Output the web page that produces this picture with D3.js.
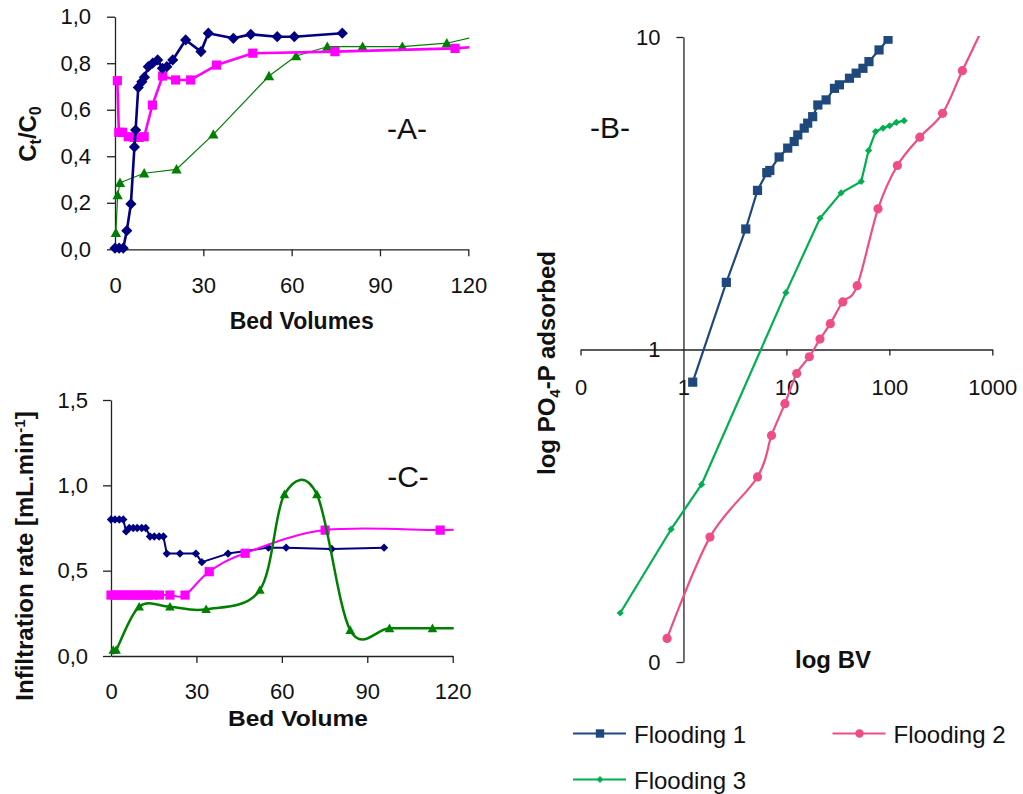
<!DOCTYPE html>
<html>
<head>
<meta charset="utf-8">
<script src="https://cdn.jsdelivr.net/npm/d3@7"></script>
<style>
  body { margin: 0; background: #fff; }
  svg { display: block; }
  text { font-family: "Liberation Sans", Arial, Helvetica, sans-serif; fill: #111; }
</style>
</head>
<body>
<svg id="fig" width="1023" height="794"></svg>
<script>
// ---- Panel A: breakthrough curves, Ct/C0 vs bed volumes ----
const bvA1 = [0, 1.4, 2.8, 4.0, 5.4, 6.6, 7.0, 7.9, 9.1, 10.0, 11.3, 12.8, 14.5, 16.1, 17.6, 19.6, 24.0, 29.2, 31.7, 40.2, 46.1, 55.1, 60.9, 77.2];
const ctA1 = [0.005, 0.005, 0.005, 0.08, 0.195, 0.44, 0.513, 0.696, 0.72, 0.74, 0.785, 0.80, 0.814, 0.778, 0.785, 0.814, 0.90, 0.85, 0.929, 0.907, 0.924, 0.914, 0.914, 0.929];
const bvA2 = [0.8, 1.3, 2.6, 4.5, 6.5, 8.2, 9.9, 12.7, 16.2, 20.6, 25.7, 34.5, 46.8, 74.7, 115.5, 122];
const ctA2 = [0.725, 0.503, 0.503, 0.484, 0.481, 0.481, 0.484, 0.62, 0.745, 0.728, 0.728, 0.792, 0.843, 0.85, 0.864, 0.87];
const bvA3 = [0.3, 0.9, 1.7, 9.9, 20.9, 33.4, 52.3, 61.5, 72.1, 84.1, 97.6, 112.7, 126];
const ctA3 = [0.071, 0.233, 0.286, 0.327, 0.344, 0.494, 0.745, 0.831, 0.871, 0.871, 0.871, 0.886, 0.925];
const bvTicks = [0, 30, 60, 90, 120];
const ctTicks = [0, 0.2, 0.4, 0.6, 0.8, 1.0];

// ---- Panel C: infiltration rate vs bed volume ----
const bvC1 = [0, 1.4, 2.9, 4.3, 5.3, 6.4, 7.8, 9.2, 10.8, 12.2, 13.7, 15.2, 16.9, 18.4, 19.6, 24.2, 29.8, 31.9, 41.1, 55.3, 61.5, 77.5, 95.9];
const irC1 = [0.80, 0.80, 0.80, 0.80, 0.73, 0.75, 0.75, 0.75, 0.75, 0.75, 0.70, 0.70, 0.70, 0.70, 0.60, 0.60, 0.60, 0.55, 0.60, 0.635, 0.635, 0.627, 0.635];
const bvC2 = [0, 1.4, 2.9, 4.3, 5.9, 7.3, 8.8, 10.2, 11.7, 13.1, 14.6, 17.0, 20.7, 26.0, 34.5, 47.1, 75.2, 115.6, 125];
const irC2 = [0.357, 0.357, 0.357, 0.357, 0.357, 0.357, 0.357, 0.357, 0.357, 0.357, 0.357, 0.357, 0.357, 0.357, 0.494, 0.602, 0.738, 0.738, 0.745];
const bvC3 = [0.8, 1.8, 9.9, 20.7, 33.4, 52.3, 60.9, 72.3, 84.0, 97.8, 112.9, 125];
const irC3 = [0.035, 0.035, 0.289, 0.289, 0.274, 0.387, 0.947, 0.947, 0.152, 0.162, 0.162, 0.162];
const irTicks = [0, 0.5, 1.0, 1.5];

// ---- Panel B: log PO4-P adsorbed vs log BV ----
const bvB1 = [1.23, 2.61, 4.03, 5.24, 6.45, 6.9, 8.5, 10.3, 11.9, 12.9, 14.9, 16.1, 18.0, 20.2, 24.3, 29.3, 32.7, 41, 47.6, 55.4, 63.4, 79.4, 97.1];
const pB1 = [0.786, 1.64, 2.43, 3.23, 3.68, 3.74, 4.13, 4.41, 4.63, 4.86, 5.11, 5.3, 5.56, 6.06, 6.29, 6.85, 7.03, 7.38, 7.66, 7.94, 8.34, 9.09, 9.84];
const bvB2 = [0.693, 1.81, 5.24, 7.17, 9.67, 12.6, 16.7, 21.2, 26.7, 35.3, 48.7, 77.6, 119.7, 197.6, 329, 512, 900];
const pB2 = [0.119, 0.251, 0.391, 0.531, 0.671, 0.838, 0.948, 1.08, 1.21, 1.42, 1.60, 2.82, 3.88, 4.78, 5.70, 7.80, 11.5];
const bvB3 = [0.243, 0.759, 1.50, 9.89, 21.2, 34, 53.3, 62.8, 73.5, 86.8, 100.7, 117, 139];
const pB3 = [0.1435, 0.266, 0.37, 1.52, 2.63, 3.17, 3.45, 4.33, 4.98, 5.11, 5.2, 5.33, 5.4];
const logBvTicks = [0.1, 1, 10, 100, 1000];
const logPTicks = [0.1, 1, 10];
const logLabel = d => d < 1 ? "0" : String(d);

const seriesNames = ["Flooding 1", "Flooding 2", "Flooding 3"];

const svg = d3.select("#fig");
const FONT = '"Liberation Sans", Arial, Helvetica, sans-serif';

const shapes = {
  diamond: r => `M0,${-r}L${r},0L0,${r}L${-r},0Z`,
  square: r => `M${-r},${-r}H${r}V${r}H${-r}Z`,
  triangle: r => `M0,${-r}L${r},${r * 0.8}L${-r},${r * 0.8}Z`,
  circle: r => `M${r},0A${r},${r} 0 1,1 ${-r},0A${r},${r} 0 1,1 ${r},0Z`
};

function drawSeries(g, xs, ys, x, y, o) {
  const pts = xs.map((v, i) => [x(v), y(ys[i])]);
  const line = d3.line().curve(o.smooth ? d3.curveCardinal.tension(0) : d3.curveLinear);
  g.append("path").attr("d", line(pts))
    .attr("fill", "none").attr("stroke", o.color)
    .attr("stroke-width", o.width).attr("stroke-linejoin", "round");
  g.selectAll(null).data(pts).join("path")
    .attr("transform", d => `translate(${d[0]},${d[1]})`)
    .attr("d", shapes[o.shape](o.r)).attr("fill", o.color);
}

function styleAxis(sel, size) {
  sel.attr("font-family", FONT).attr("font-size", size);
  sel.selectAll("path.domain").attr("stroke", "#222").attr("stroke-width", 1.3);
  sel.selectAll(".tick line").attr("stroke", "#222").attr("stroke-width", 1.3);
  sel.selectAll(".tick text").attr("fill", "#111");
}

function clip(id, x, y, w, h) {
  svg.append("clipPath").attr("id", id).append("rect")
    .attr("x", x).attr("y", y).attr("width", w).attr("height", h);
}

const comma = d => d3.format(".1f")(d).replace(".", ",");

// ================= Panel A =================
const xA = d3.scaleLinear().domain([0, 120]).range([115, 468.3]);
const yA = d3.scaleLinear().domain([0, 1]).range([249.3, 16.7]);
svg.append("g").attr("transform", `translate(0,${yA(0)})`)
  .call(d3.axisBottom(xA).tickValues(bvTicks).tickFormat(d3.format("d"))
    .tickSize(7).tickSizeOuter(0).tickPadding(21))
  .call(s => styleAxis(s, 22))
  .call(s => s.selectAll(".tick line").filter(d => d === 0).remove());
svg.append("g").attr("transform", `translate(${xA(0)},0)`)
  .call(d3.axisLeft(yA).tickValues(ctTicks).tickFormat(comma)
    .tickSize(8).tickSizeOuter(0).tickPadding(16))
  .call(s => styleAxis(s, 22));

clip("clipA", 100, 0, xA(120) - 100 + 1, 262);
const gA = svg.append("g").attr("clip-path", "url(#clipA)");
drawSeries(gA, bvA3, ctA3, xA, yA, { color: "#008000", width: 1.2, shape: "triangle", r: 5.2 });
drawSeries(gA, bvA2, ctA2, xA, yA, { color: "#ff00ff", width: 2.6, shape: "square", r: 4.6 });
drawSeries(gA, bvA1, ctA1, xA, yA, { color: "#000080", width: 2.6, shape: "diamond", r: 5.6 });

svg.append("text").attr("x", 301.7).attr("y", 328.5).attr("text-anchor", "middle")
  .attr("font-size", 23).attr("font-weight", "bold").text("Bed Volumes");
const lblA = svg.append("text").attr("transform", "translate(36,134) rotate(-90)")
  .attr("text-anchor", "middle").attr("font-size", 24).attr("font-weight", "bold");
lblA.append("tspan").text("C");
lblA.append("tspan").attr("dy", 5).attr("font-size", 16).text("t");
lblA.append("tspan").attr("dy", -5).text("/C");
lblA.append("tspan").attr("dy", 5).attr("font-size", 16).text("0");
svg.append("text").attr("x", 407).attr("y", 139).attr("text-anchor", "middle")
  .attr("font-size", 30).text("-A-");

// ================= Panel C =================
const xC = d3.scaleLinear().domain([0, 120]).range([111, 452.7]);
const yC = d3.scaleLinear().domain([0, 1.5]).range([656, 400]);
svg.append("g").attr("transform", `translate(0,${yC(0)})`)
  .call(d3.axisBottom(xC).tickValues(bvTicks).tickFormat(d3.format("d"))
    .tickSize(7).tickSizeOuter(0).tickPadding(20))
  .call(s => styleAxis(s, 22))
  .call(s => s.selectAll(".tick line").filter(d => d === 0).remove());
svg.append("g").attr("transform", `translate(${xC(0)},0)`)
  .call(d3.axisLeft(yC).tickValues(irTicks).tickFormat(comma)
    .tickSize(8).tickSizeOuter(0).tickPadding(15))
  .call(s => styleAxis(s, 22));

clip("clipC", 96, 380, xC(120) - 96 + 1, 290);
const gC = svg.append("g").attr("clip-path", "url(#clipC)");
drawSeries(gC, bvC1, irC1, xC, yC, { color: "#000080", width: 2, shape: "diamond", r: 4.2 });
drawSeries(gC, bvC2, irC2, xC, yC, { color: "#ff00ff", width: 2, shape: "square", r: 4.6, smooth: true });
drawSeries(gC, bvC3, irC3, xC, yC, { color: "#008000", width: 2.5, shape: "triangle", r: 4.8, smooth: true });

svg.append("text").attr("x", 298).attr("y", 726).attr("text-anchor", "middle")
  .attr("font-size", 22).attr("font-weight", "bold")
  .attr("textLength", 140).attr("lengthAdjust", "spacingAndGlyphs").text("Bed Volume");
const lblC = svg.append("text").attr("transform", "translate(33,556) rotate(-90)")
  .attr("text-anchor", "middle").attr("font-size", 24).attr("font-weight", "bold");
lblC.append("tspan").text("Infiltration rate [mL.min");
lblC.append("tspan").attr("dy", -8).attr("font-size", 15).text("-1");
lblC.append("tspan").attr("dy", 8).text("]");
svg.append("text").attr("x", 408).attr("y", 487).attr("text-anchor", "middle")
  .attr("font-size", 30).text("-C-");

// ================= Panel B =================
const xB = d3.scaleLog().domain([0.1, 1000]).range([580.5, 992.3]);
const yB = d3.scaleLog().domain([0.1, 10]).range([662, 37]);
svg.append("g").attr("transform", `translate(0,${yB(1)})`)
  .call(d3.axisBottom(xB).tickValues(logBvTicks).tickFormat(logLabel)
    .tickSize(6).tickSizeOuter(0).tickPadding(24))
  .call(s => styleAxis(s, 22))
  .call(s => s.selectAll(".tick line").filter(d => d === 1).remove());
svg.append("g").attr("transform", `translate(${xB(1)},0)`)
  .call(d3.axisLeft(yB).tickValues(logPTicks).tickFormat(logLabel)
    .tickSize(7).tickSizeOuter(0).tickPadding(16))
  .call(s => styleAxis(s, 22))
  .call(s => s.selectAll(".tick line").filter(d => d === 1).remove());

clip("clipB", 560, 36, 460, 660);
const gB = svg.append("g").attr("clip-path", "url(#clipB)");
drawSeries(gB, bvB3, pB3, xB, yB, { color: "#00b050", width: 2.2, shape: "diamond", r: 3.6 });
drawSeries(gB, bvB2, pB2, xB, yB, { color: "#ee4d85", width: 2.2, shape: "circle", r: 4.6, smooth: true });
drawSeries(gB, bvB1, pB1, xB, yB, { color: "#1f497d", width: 2.2, shape: "square", r: 4.6 });

svg.append("text").attr("x", 795).attr("y", 668)
  .attr("font-size", 24).attr("font-weight", "bold").text("log  BV");
const lblB = svg.append("text").attr("transform", "translate(555,363) rotate(-90)")
  .attr("text-anchor", "middle").attr("font-size", 24).attr("font-weight", "bold");
lblB.append("tspan").text("log PO");
lblB.append("tspan").attr("dy", 5).attr("font-size", 15).text("4");
lblB.append("tspan").attr("dy", -5).text("-P adsorbed");
svg.append("text").attr("x", 610).attr("y", 138).attr("text-anchor", "middle")
  .attr("font-size", 30).text("-B-");

// ================= Legend =================
const legendItems = [
  { name: seriesNames[0], color: "#1f497d", shape: "square", r: 4.2, x: 573, y: 733.5 },
  { name: seriesNames[1], color: "#ee4d85", shape: "circle", r: 4.2, x: 832.5, y: 733.5 },
  { name: seriesNames[2], color: "#00b050", shape: "diamond", r: 3.4, x: 573, y: 779.5 }
];
const lg = svg.append("g");
legendItems.forEach(it => {
  lg.append("line").attr("x1", it.x).attr("x2", it.x + 53).attr("y1", it.y).attr("y2", it.y)
    .attr("stroke", it.color).attr("stroke-width", 2.2);
  lg.append("path").attr("transform", `translate(${it.x + 27},${it.y})`)
    .attr("d", shapes[it.shape](it.r)).attr("fill", it.color);
  lg.append("text").attr("x", it.x + 61).attr("y", it.y + 9.5)
    .attr("font-size", 24).text(it.name);
});
</script>
</body>
</html>
